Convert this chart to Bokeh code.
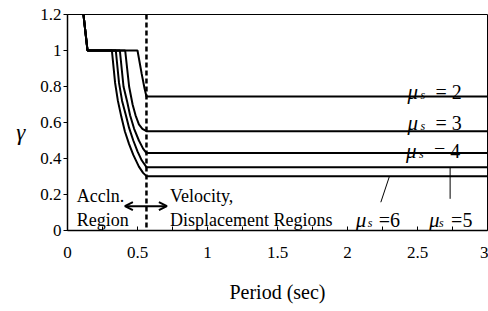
from bokeh.plotting import figure
from bokeh.models import Range1d, FixedTicker, Span, Arrow, OpenHead, Label
from bokeh.embed import file_html
from bokeh.resources import INLINE

# ---------------- data ----------------
x_ticks = [0, 0.5, 1, 1.5, 2, 2.5, 3]
x_tick_labels = ["0", "0.5", "1", "1.5", "2", "2.5", "3"]
x_minor_ticks = [0.25, 0.75, 1.25, 1.75, 2.25, 2.75]
y_ticks = [0, 0.2, 0.4, 0.6, 0.8, 1.0, 1.2]
y_tick_labels = ["0", "0.2", "0.4", "0.6", "0.8", "1", "1.2"]

T_c = 0.564  # boundary period (dashed line)

T_mu2 = [0.114, 0.143, 0.500, 0.530, 0.550, 0.564, 3.0]
g_mu2 = [1.20, 1.00, 1.00, 0.87, 0.79, 0.745, 0.745]

T_mu3 = [0.114, 0.143, 0.412, 0.440, 0.465, 0.486, 0.510, 0.535, 0.564, 3.0]
g_mu3 = [1.20, 1.00, 1.00, 0.80, 0.70, 0.64, 0.59, 0.565, 0.552, 0.552]

T_mu4 = [0.114, 0.143, 0.374, 0.400, 0.425, 0.447, 0.476, 0.510, 0.540, 0.564, 3.0]
g_mu4 = [1.20, 1.00, 1.00, 0.80, 0.72, 0.64, 0.565, 0.50, 0.455, 0.43, 0.43]

T_mu5 = [0.114, 0.143, 0.345, 0.368, 0.390, 0.417, 0.440, 0.470, 0.500, 0.530, 0.564, 3.0]
g_mu5 = [1.20, 1.00, 1.00, 0.82, 0.72, 0.64, 0.57, 0.50, 0.44, 0.39, 0.352, 0.352]

T_mu6 = [0.114, 0.143, 0.317, 0.340, 0.360, 0.385, 0.410, 0.440, 0.470, 0.510, 0.540, 0.564, 3.0]
g_mu6 = [1.20, 1.00, 1.00, 0.82, 0.72, 0.63, 0.55, 0.48, 0.42, 0.355, 0.32, 0.302, 0.302]

curves = [(T_mu2, g_mu2), (T_mu3, g_mu3), (T_mu4, g_mu4), (T_mu5, g_mu5), (T_mu6, g_mu6)]

FONT = "Liberation Serif"

p = figure(width=488, height=311, output_backend="svg", toolbar_location=None,
           x_range=Range1d(0, 3), y_range=Range1d(0, 1.2),
           min_border_left=67, min_border_right=1, min_border_top=14, min_border_bottom=81)
p.grid.visible = False
p.outline_line_color = "black"
p.outline_line_width = 1
p.background_fill_color = "white"
p.border_fill_color = "white"

# x axis
xa = p.xaxis[0]
xa.ticker = FixedTicker(ticks=x_ticks, minor_ticks=x_minor_ticks)
xa.major_label_overrides = {t: l for t, l in zip(x_ticks, x_tick_labels)}
xa.major_tick_in = 4
xa.major_tick_out = 0
xa.minor_tick_in = 4
xa.minor_tick_out = 0
xa.major_label_standoff = 16
xa.major_label_text_font = FONT
xa.major_label_text_font_size = "17px"
xa.major_label_text_color = "black"
xa.axis_line_color = "black"
xa.axis_line_width = 1.5
xa.major_tick_line_color = "black"
xa.minor_tick_line_color = "black"
xa.axis_label = "Period (sec)"
xa.axis_label_text_font = FONT
xa.axis_label_text_font_size = "20px"
xa.axis_label_text_font_style = "normal"
xa.axis_label_text_color = "black"
xa.axis_label_standoff = 20

# y axis
ya = p.yaxis[0]
ya.ticker = FixedTicker(ticks=y_ticks, minor_ticks=[])
ya.major_label_overrides = {t: l for t, l in zip(y_ticks, y_tick_labels)}
ya.major_tick_in = 0
ya.major_tick_out = 4
ya.minor_tick_in = 0
ya.minor_tick_out = 0
ya.major_label_standoff = 2
ya.major_label_text_font = FONT
ya.major_label_text_font_size = "17px"
ya.major_label_text_color = "black"
ya.axis_line_color = "black"
ya.axis_line_width = 1.5
ya.major_tick_line_color = "black"
ya.axis_label = "\nγ"
ya.axis_label_orientation = "horizontal"
ya.axis_label_text_font = FONT
ya.axis_label_text_font_size = "23px"
ya.axis_label_text_font_style = "italic"
ya.axis_label_text_line_height = 0.8
ya.axis_label_text_color = "black"
ya.axis_label_standoff = 12

# curves
for T, g in curves:
    p.line(T, g, line_color="black", line_width=2)

# boundary dashed line
p.add_layout(Span(location=T_c, dimension="height", line_color="black",
                  line_width=2.5, line_dash="5 3"))

# double arrow
p.add_layout(Arrow(start=OpenHead(size=8, line_width=2), end=OpenHead(size=8, line_width=2),
                   x_start=0.41, x_end=0.71, y_start=0.135, y_end=0.135,
                   line_width=2, line_color="black"))

# leader lines for mu=5 and mu=6
p.line([2.733, 2.733], [0.352, 0.176], line_color="black", line_width=1)
p.line([2.300, 2.238], [0.302, 0.157], line_color="black", line_width=1)

def lab(x, y, text, size="18px", style="normal", xo=0, yo=0, align="left", baseline="alphabetic"):
    p.add_layout(Label(x=x, y=y, text=text, x_offset=xo, y_offset=yo,
                       text_font=FONT, text_font_size=size, text_font_style=style,
                       text_color="black", text_align=align, text_baseline=baseline))

# region texts
lab(0.066, 0.194, "Accln.")
lab(0.066, 0.056, "Region")
lab(0.732, 0.194, "Velocity,")
lab(0.732, 0.056, "Displacement Regions")

# mu labels: (x of mu, baseline y, s offset, '=' offset, text after '=')
mu_labels = [
    (2.429, 0.768, 13, 28, "= 2"),
    (2.429, 0.600, 13, 28, "= 3"),
    (2.417, 0.440, 13, 28, "= 4"),
    (2.059, 0.056, 12, 23, "=6"),
    (2.583, 0.056, 10, 22, "=5"),
]
for x, y, so, eo, rest in mu_labels:
    lab(x, y, "μ", size="21px", style="italic")
    lab(x, y, "s", size="12px", style="italic", xo=so, yo=-3)
    lab(x, y, rest, size="20px", xo=eo)

open("out.html", "w").write(file_html(p, INLINE))
